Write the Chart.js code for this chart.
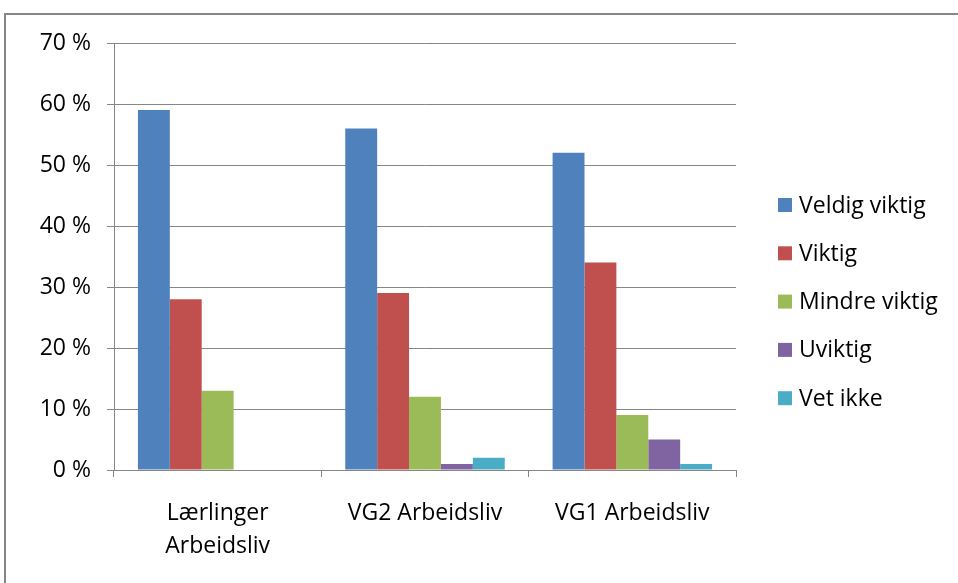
<!DOCTYPE html>
<html>
<head>
<meta charset="utf-8">
<script src="https://cdn.jsdelivr.net/npm/chart.js@4/dist/chart.umd.min.js"></script>
<style>
html,body{margin:0;padding:0;background:#fff;}
#wrap{width:958px;height:583px;position:relative;}
</style>
</head>
<body>
<div id="wrap"><canvas id="c" width="958" height="583"></canvas></div>
<script>
const categories = [["Lærlinger", "Arbeidsliv"], "VG2 Arbeidsliv", "VG1 Arbeidsliv"];
const seriesNames = ["Veldig viktig", "Viktig", "Mindre viktig", "Uviktig", "Vet ikke"];
const veldigViktig = [59, 56, 52];
const viktig = [28, 29, 34];
const mindreViktig = [13, 12, 9];
const uviktig = [0, 1, 5];
const vetIkke = [0, 2, 1];
const colors = ["#4F81BD", "#C0504D", "#9BBB59", "#8064A2", "#4BACC6"];
const yTicks = [0, 10, 20, 30, 40, 50, 60, 70];

const FONT = "'Open Sans', Lato, sans-serif";
const seriesValues = [veldigViktig, viktig, mindreViktig, uviktig, vetIkke];

const framePlugin = {
  id: 'frame',
  beforeDraw(chart) {
    const ctx = chart.ctx;
    ctx.save();
    ctx.fillStyle = '#fff';
    ctx.fillRect(0, 0, chart.width, chart.height);
    ctx.strokeStyle = '#868686';
    ctx.lineWidth = 2;
    ctx.beginPath();
    ctx.moveTo(5, chart.height + 5);
    ctx.lineTo(5, 14);
    ctx.lineTo(chart.width + 5, 14);
    ctx.stroke();
    ctx.restore();
  }
};

const legendPlugin = {
  id: 'customLegend',
  afterDraw(chart) {
    const ctx = chart.ctx;
    ctx.save();
    ctx.font = "23px " + FONT;
    ctx.textBaseline = 'middle';
    ctx.textAlign = 'left';
    chart.data.datasets.forEach((ds, i) => {
      const cy = 205 + i * 48.3;
      ctx.fillStyle = ds.backgroundColor;
      ctx.fillRect(778, cy - 7, 14, 14);
      ctx.fillStyle = '#000';
      ctx.fillText(ds.label, 799, cy + 1);
    });
    ctx.restore();
  }
};

new Chart(document.getElementById('c'), {
  type: 'bar',
  data: {
    labels: categories,
    datasets: seriesNames.map((n, i) => ({
      label: n,
      data: seriesValues[i],
      backgroundColor: colors[i],
      borderWidth: 0,
      categoryPercentage: 5 / 6.5,
      barPercentage: 1
    }))
  },
  options: {
    responsive: false,
    animation: false,
    devicePixelRatio: 1,
    layout: { padding: { top: 43, right: 222, bottom: 0, left: 0 } },
    plugins: { legend: { display: false }, tooltip: { enabled: false } },
    scales: {
      x: {
        grid: { display: true, drawOnChartArea: false, drawTicks: true, tickLength: 7, color: '#868686', offset: true },
        border: { display: true, color: '#868686', width: 1 },
        ticks: { color: '#000', font: { family: FONT, size: 23, lineHeight: 1.43 }, padding: 20, maxRotation: 0, autoSkip: false },
        afterFit(scale) { scale.height = 113; }
      },
      y: {
        min: 0, max: 70,
        afterBuildTicks(scale) { scale.ticks = yTicks.map(v => ({ value: v })); },
        grid: { color: '#868686', tickLength: 7, drawTicks: true },
        border: { display: true, color: '#868686', width: 1 },
        ticks: { color: '#000', font: { family: FONT, size: 23 }, padding: 16, callback: v => v + ' %' },
        afterFit(scale) { scale.width = 114; }
      }
    }
  },
  plugins: [framePlugin, legendPlugin]
});
</script>
</body>
</html>
